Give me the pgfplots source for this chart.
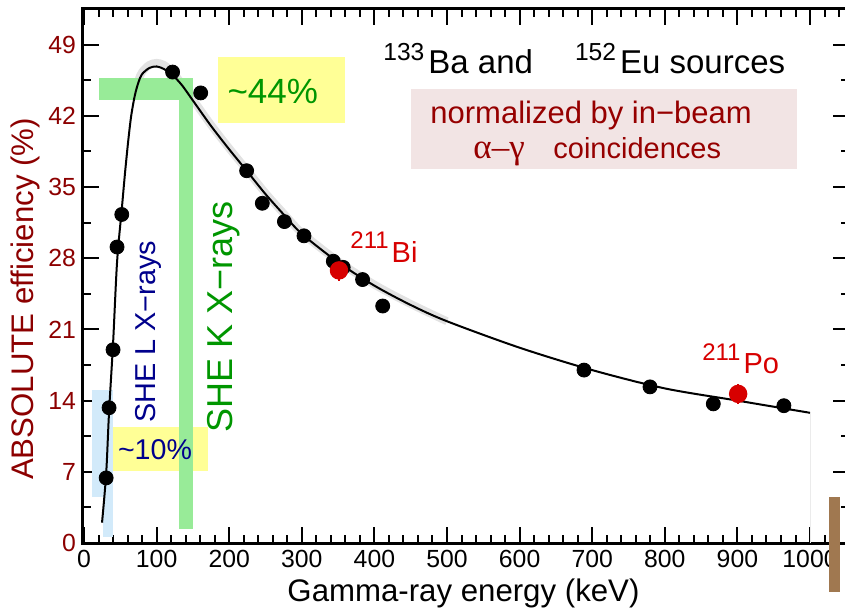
\documentclass[border=0pt]{standalone}
\usepackage{fontspec}
\setmainfont{Liberation Sans}
\newfontfamily\grk{Liberation Serif}
\usepackage{pgfplots}
\pgfplotsset{compat=1.18}
\definecolor{dred}{RGB}{140,0,0}
\definecolor{pdred}{RGB}{150,0,0}
\definecolor{rred}{RGB}{215,0,0}
\definecolor{ngreen}{RGB}{0,150,0}
\definecolor{lgreen}{RGB}{152,235,152}
\definecolor{lblue}{RGB}{210,234,250}
\definecolor{lyellow}{RGB}{255,255,150}
\definecolor{lpink}{RGB}{242,228,228}
\definecolor{navy}{RGB}{0,0,140}
\definecolor{brownbar}{RGB}{160,120,80}
\definecolor{band}{RGB}{226,226,226}
\begin{document}
\begin{tikzpicture}
\path[use as bounding box] (-41.5pt,-32pt) rectangle (381pt,271.5pt);
\begin{axis}[
  at={(0pt,0pt)}, anchor=south west,
  scale only axis, width=383pt, height=267pt,
  xmin=-1.4, xmax=1053.7, ymin=0, ymax=52.5,
  xtick={0,100,...,1000}, minor xtick={20,40,...,1040},
  ytick={0,7,...,49}, minor ytick={3.5,10.5,...,45.5},
  tick align=inside, major tick length=8pt, minor tick length=4pt,
  axis line style={line width=1.5pt},
  every tick/.style={line width=1pt, black},
  tick label style={font=\fontsize{12.4}{14}\selectfont},
  yticklabel style={text=dred},
  /pgf/number format/assume math mode=true,
  /pgf/number format/1000 sep={},
  clip=false,
  xlabel={Gamma-ray energy (keV)},
  ylabel={ABSOLUTE efficiency (\%)},
  label style={font=\fontsize{15.6}{18}\selectfont},
  xlabel style={at={(axis description cs:0.4967,-0.1086)}, anchor=base},
  ylabel style={at={(axis description cs:-0.0649,0.457)}, anchor=base, text=dred},
]
% shaded annotation regions
\fill[lblue] (axis cs:10.6,4.57) rectangle (axis cs:40.2,15.0);
\fill[lblue] (axis cs:25.6,0.62) rectangle (axis cs:40.2,4.57);
\fill[lyellow] (axis cs:40.4,7.1) rectangle (axis cs:170.2,11.44);
\fill[lyellow] (axis cs:184.6,41.3) rectangle (axis cs:359.8,47.8);
\fill[lpink] (axis cs:450,36.8) rectangle (axis cs:982,44.6);
% uncertainty band
\addplot[band, line width=4pt, smooth] coordinates {
(72,44.7) (75,45.5) (80,46.3) (90,47.0) (100,47.2) (110,47.0) (122,46.3) (135,45.1) (150,43.6) (175,41.1) (200,38.8) (224,36.7) (250,34.4) (275,32.4) (300,30.5) (350,27.7) (400,25.4) (450,23.5) (500,21.8)};
% green L
\fill[lgreen] (axis cs:20.7,43.6) rectangle (axis cs:150.6,45.7);
\fill[lgreen] (axis cs:130.9,1.38) rectangle (axis cs:150.6,45.7);
% faint line at curve end
\draw[black!8, line width=0.5pt] (axis cs:1000,0) -- (axis cs:1000,12.8);
% fitted efficiency curve
\addplot[black, line width=1pt, smooth, tension=0.5] coordinates {
(24.8,2.0) (30.5,6.8) (34.5,12.9) (40,19.6) (45.5,27.6) (52,32.8) (56.5,36.4) (61,39.6) (65,42.0) (70,44.0) (75,45.3) (80,46.1) (90,46.7) (100,46.85) (110,46.6) (122,46.0) (135,45.0) (150,43.5) (175,41.0) (200,38.7) (224,36.6) (250,34.3) (275,32.3) (300,30.4) (350,27.6) (400,25.3) (450,23.4) (500,21.8) (600,19.2) (700,17.0) (800,15.2) (900,14.0) (1000,12.8)};
% 133Ba and 152Eu source points
\addplot[only marks, mark=*, mark size=3.5pt, black] coordinates {
(30.5,6.4) (34.5,13.3) (40,19.0) (45.5,29.1) (52,32.3) (122,46.3) (160.7,44.25) (224,36.6) (245.6,33.4) (276,31.6) (303,30.2) (343.4,27.7) (357,27.1) (383.7,25.9) (411.4,23.3) (688.7,17.0) (779.6,15.35) (866.8,13.68) (964,13.5)};
% in-beam points
\addplot[only marks, mark=*, mark size=4pt, rred, line width=1.2pt,
  error bars/.cd, y dir=both, y explicit, error bar style={rred, line width=1.2pt}, error mark=none]
  coordinates {(351.2,26.8) +- (0,1.05) (901,14.66) +- (0,1.0)};
% brown bar
\fill[brownbar] (axis cs:1026,-4.8) rectangle (axis cs:1041,4.5);
% texts
\node[text=ngreen, font=\fontsize{17.5}{20}\selectfont] at (axis cs:260,44.4) {\textasciitilde44\%};
\node[text=navy, font=\fontsize{14.3}{16}\selectfont] at (axis cs:97.8,9.15) {\textasciitilde10\%};
\node[rotate=90, anchor=base west, inner sep=0pt, text=navy, font=\fontsize{14.4}{16}\selectfont] at (axis cs:97.8,11.8) {SHE L X−rays};
\node[rotate=90, anchor=base west, inner sep=0pt, text=ngreen, font=\fontsize{18}{20}\selectfont] at (axis cs:205,10.8) {SHE K X−rays};
\node[anchor=base west, inner sep=0pt, font=\fontsize{16.5}{18}\selectfont] at (axis cs:411.8,46.15)
  {\raisebox{6.5pt}{\fontsize{12.3}{13}\selectfont 133}\kern2pt Ba and\hspace{21pt}\raisebox{6.5pt}{\fontsize{12.3}{13}\selectfont 152}\kern2pt Eu sources};
\node[anchor=base west, inner sep=0pt, text=pdred, font=\fontsize{15.5}{18}\selectfont] at (axis cs:476.6,41.2) {normalized by in−beam};
\node[anchor=base west, inner sep=0pt, text=pdred, font=\fontsize{17.5}{18}\selectfont] at (axis cs:535.8,37.8) {\grk α–γ};
\node[anchor=base west, inner sep=0pt, text=pdred, font=\fontsize{14.5}{18}\selectfont] at (axis cs:646,37.8) {coincidences};
\node[anchor=base west, inner sep=0pt, text=rred, font=\fontsize{14.5}{16}\selectfont] at (axis cs:366.4,27.55)
  {\raisebox{7pt}{\fontsize{12}{13}\selectfont 211}\kern1.5pt Bi};
\node[anchor=base west, inner sep=0pt, text=rred, font=\fontsize{14.5}{16}\selectfont] at (axis cs:851,16.7)
  {\raisebox{6.5pt}{\fontsize{12}{13}\selectfont 211}\kern1.5pt Po};
\end{axis}
\end{tikzpicture}
\end{document}
